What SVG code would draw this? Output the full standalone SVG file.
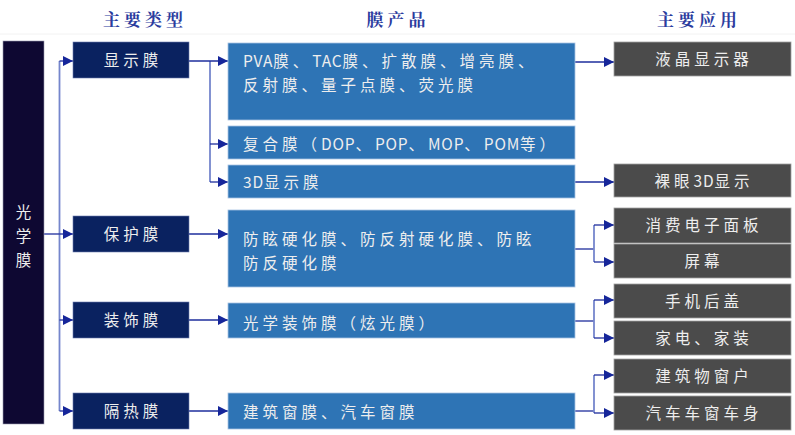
<svg xmlns="http://www.w3.org/2000/svg" width="795" height="435" viewBox="0 0 795 435">
<style>
.hdr{font-family:"Noto Serif CJK SC","Noto Sans CJK SC",serif;font-weight:bold;font-size:17px;fill:#2b3c9e;letter-spacing:4px;text-anchor:middle}
.t{font-family:"Noto Sans CJK SC","Liberation Sans",sans-serif;font-size:15.5px;fill:#eeeeee;letter-spacing:4px}
.c{text-anchor:middle}
.l{letter-spacing:0.8px}
.bar{fill:#0e0832;stroke:#9a9ab0;stroke-width:0.6}
.cat{fill:#0a2260;stroke:#6c7cb0;stroke-width:0.6}
.prod{fill:#2e74b5;stroke:#a8c4e4;stroke-width:0.8}
.app{fill:#4b4b4b;stroke:#a0a0a0;stroke-width:0.8}
.ln{fill:none;stroke:#1e2e9c;stroke-width:1.3}
.br{fill:none;stroke:#7586cc;stroke-width:1.8}
</style>
<defs>
<marker id="ah" viewBox="0 0 10 10" refX="10" refY="5" markerWidth="10" markerHeight="10" markerUnits="userSpaceOnUse" orient="auto">
<path d="M0,0 L10,5 L0,10 z" fill="#16269a"/>
</marker>
</defs>
<rect width="795" height="435" fill="#ffffff"/>
<line x1="0" y1="34" x2="795" y2="34" stroke="#f2f2f2" stroke-width="1"/>
<text class="hdr" x="145" y="26">主要类型</text>
<text class="hdr" x="398" y="26">膜产品</text>
<text class="hdr" x="699" y="26">主要应用</text>

<g id="connectors">
<path class="br" d="M59.5,61 V411"/>
<path class="ln" d="M44,234 H59.5"/>
<path class="ln" d="M59.5,61 H73" marker-end="url(#ah)"/>
<path class="ln" d="M59.5,234 H73" marker-end="url(#ah)"/>
<path class="ln" d="M59.5,320 H73" marker-end="url(#ah)"/>
<path class="ln" d="M59.5,411 H73" marker-end="url(#ah)"/>
<path class="br" d="M210,61 V182"/>
<path class="ln" d="M189,61 H228" marker-end="url(#ah)"/>
<path class="ln" d="M210,144 H228" marker-end="url(#ah)"/>
<path class="ln" d="M210,182 H228" marker-end="url(#ah)"/>
<path class="ln" d="M189,234 H228" marker-end="url(#ah)"/>
<path class="ln" d="M189,320 H228" marker-end="url(#ah)"/>
<path class="ln" d="M189,411 H228" marker-end="url(#ah)"/>
<path class="ln" d="M575,62 H614" marker-end="url(#ah)"/>
<path class="ln" d="M575,182 H614" marker-end="url(#ah)"/>
<path class="ln" d="M575,249 H594"/>
<path class="br" d="M594,225 V262"/>
<path class="ln" d="M594,225 H614" marker-end="url(#ah)"/>
<path class="ln" d="M594,262 H614" marker-end="url(#ah)"/>
<path class="ln" d="M575,321 H594"/>
<path class="br" d="M594,300 V338"/>
<path class="ln" d="M594,300 H614" marker-end="url(#ah)"/>
<path class="ln" d="M594,338 H614" marker-end="url(#ah)"/>
<path class="ln" d="M575,411 H594"/>
<path class="br" d="M594,375 V413"/>
<path class="ln" d="M594,375 H614" marker-end="url(#ah)"/>
<path class="ln" d="M594,413 H614" marker-end="url(#ah)"/>
</g>

<g id="root">
<rect class="bar" x="3" y="41" width="41" height="383"/>
<text class="t c" x="23.5" y="218" style="letter-spacing:0">光</text>
<text class="t c" x="23.5" y="242" style="letter-spacing:0">学</text>
<text class="t c" x="23.5" y="266" style="letter-spacing:0">膜</text>
</g>

<g id="cat-display"><rect class="cat" x="73" y="42" width="116" height="36"/><text class="t c" x="133" y="66">显示膜</text></g>
<g id="cat-protect"><rect class="cat" x="73" y="216" width="116" height="36"/><text class="t c" x="133" y="240">保护膜</text></g>
<g id="cat-decor"><rect class="cat" x="73" y="302" width="116" height="36"/><text class="t c" x="133" y="326">装饰膜</text></g>
<g id="cat-heat"><rect class="cat" x="73" y="393" width="116" height="36"/><text class="t c" x="133" y="417">隔热膜</text></g>

<g id="prod-display"><rect class="prod" x="228" y="43" width="347" height="77"/>
<text class="t" x="243" y="67"><tspan class="l">PVA</tspan>膜、<tspan class="l">TAC</tspan>膜、扩散膜、增亮膜、</text>
<text class="t" x="243" y="91">反射膜、量子点膜、荧光膜</text></g>
<g id="prod-composite"><rect class="prod" x="228" y="126" width="347" height="33"/><text class="t" x="243" y="150">复合膜（<tspan class="l">DOP</tspan>、<tspan class="l">POP</tspan>、<tspan class="l">MOP</tspan>、<tspan class="l">POM</tspan>等）</text></g>
<g id="prod-3d"><rect class="prod" x="228" y="165" width="347" height="33"/><text class="t" x="243" y="188"><tspan class="l">3D</tspan>显示膜</text></g>
<g id="prod-protect"><rect class="prod" x="228" y="210" width="347" height="77"/>
<text class="t" x="243" y="245">防眩硬化膜、防反射硬化膜、防眩</text>
<text class="t" x="243" y="269">防反硬化膜</text></g>
<g id="prod-decor"><rect class="prod" x="228" y="303" width="347" height="35"/><text class="t" x="243" y="329">光学装饰膜（炫光膜）</text></g>
<g id="prod-heat"><rect class="prod" x="228" y="393" width="347" height="36"/><text class="t" x="243" y="418">建筑窗膜、汽车窗膜</text></g>

<g id="app-lcd"><rect class="app" x="614" y="42" width="177" height="34"/><text class="t c" x="704" y="65">液晶显示器</text></g>
<g id="app-3d"><rect class="app" x="614" y="164" width="177" height="33"/><text class="t c" x="704" y="187">裸眼<tspan class="l">3D</tspan>显示</text></g>
<g id="app-panel"><rect class="app" x="614" y="208" width="177" height="35"/><text class="t c" x="704" y="231">消费电子面板</text></g>
<g id="app-screen"><rect class="app" x="614" y="244" width="177" height="34"/><text class="t c" x="704" y="267">屏幕</text></g>
<g id="app-phone"><rect class="app" x="614" y="284" width="177" height="34"/><text class="t c" x="704" y="307">手机后盖</text></g>
<g id="app-home"><rect class="app" x="614" y="321" width="177" height="34"/><text class="t c" x="704" y="344">家电、家装</text></g>
<g id="app-window"><rect class="app" x="614" y="359" width="177" height="34"/><text class="t c" x="704" y="382">建筑物窗户</text></g>
<g id="app-car"><rect class="app" x="614" y="396" width="177" height="34"/><text class="t c" x="704" y="419">汽车车窗车身</text></g>
</svg>
